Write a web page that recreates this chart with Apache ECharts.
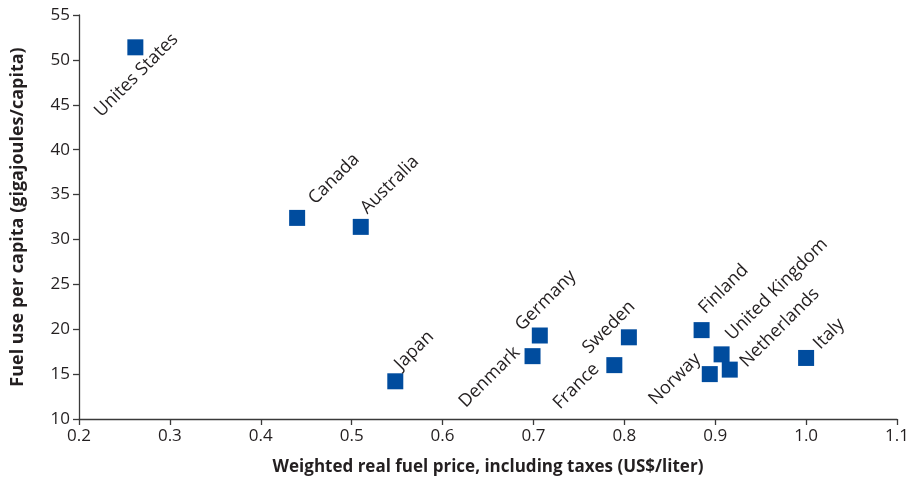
<!DOCTYPE html>
<html>
<head>
<meta charset="utf-8">
<script src="https://cdn.jsdelivr.net/npm/echarts@6/dist/echarts.min.js"></script>
<style>
  html, body { margin: 0; padding: 0; background: #fff; }
  #chart { width: 914px; height: 485px; }
</style>
</head>
<body>
<div id="chart"></div>
<script>
// Fuel price vs. per-capita fuel use by country
const countries = ['Unites States', 'Canada', 'Australia', 'Japan', 'Denmark', 'Germany',
  'France', 'Sweden', 'Finland', 'Norway', 'United Kingdom', 'Netherlands', 'Italy'];
const fuelPrice = [0.262, 0.440, 0.510, 0.548, 0.699, 0.707, 0.789, 0.805, 0.885, 0.894, 0.907, 0.916, 1.000];
const fuelUse   = [51.4, 32.4, 31.4, 14.2, 17.0, 19.3, 16.0, 19.1, 19.9, 15.0, 17.2, 15.5, 16.8];

const xTicks = [0.2, 0.3, 0.4, 0.5, 0.6, 0.7, 0.8, 0.9, 1.0, 1.1];
const yTicks = [10, 15, 20, 25, 30, 35, 40, 45, 50, 55];

// Screen offset (px) of each rotated label's centre from its marker
const labelShift = [
  [1, 28], [37, -39], [29, -42], [19, -31], [-43, 21], [6, -35],
  [-38, 21], [-20, -10], [22, -41], [-35, 5], [55, -65], [50, -42], [23, -24]
];

const FONT = 'Open Sans';
const INK = '#231f20';
const AXIS = '#3a3a3a';
const ANG = Math.PI / 4;

// Labels rotate about their anchor, so express the screen shift in the rotated frame
function toLocal(d) {
  const c = Math.cos(ANG), s = Math.sin(ANG);
  return [c * d[0] - s * d[1], s * d[0] + c * d[1]];
}

const points = countries.map((name, i) => ({
  name: name,
  value: [fuelPrice[i], fuelUse[i]],
  label: { offset: toLocal(labelShift[i]) }
}));

const chart = echarts.init(document.getElementById('chart'), null, { renderer: 'canvas' });
chart.setOption({
  animation: false,
  backgroundColor: '#ffffff',
  grid: { left: 79, right: 17, top: 15, bottom: 66, containLabel: false },
  xAxis: {
    type: 'value',
    min: xTicks[0],
    max: xTicks[xTicks.length - 1],
    interval: 0.1,
    name: 'Weighted real fuel price, including taxes (US$/liter)',
    nameLocation: 'middle',
    nameGap: 40,
    nameTextStyle: { fontFamily: FONT, fontWeight: 'bold', fontSize: 17, color: INK },
    axisLine: { show: true, lineStyle: { color: AXIS, width: 1.3 } },
    axisTick: { show: true, inside: false, length: 6, lineStyle: { color: AXIS, width: 1.3 } },
    axisLabel: {
      margin: 9,
      fontFamily: FONT, fontSize: 17, color: INK,
      formatter: v => v.toFixed(1)
    },
    splitLine: { show: false }
  },
  yAxis: {
    type: 'value',
    min: yTicks[0],
    max: yTicks[yTicks.length - 1],
    interval: 5,
    name: 'Fuel use per capita (gigajoules/capita)',
    nameLocation: 'middle',
    nameGap: 52,
    nameTextStyle: { fontFamily: FONT, fontWeight: 'bold', fontSize: 18, color: INK },
    axisLine: { show: true, lineStyle: { color: AXIS, width: 1.3 } },
    axisTick: { show: true, inside: false, length: 6, lineStyle: { color: AXIS, width: 1.3 } },
    axisLabel: { margin: 9, fontFamily: FONT, fontSize: 17, color: INK },
    splitLine: { show: false }
  },
  series: [{
    type: 'scatter',
    symbol: 'rect',
    symbolSize: 16,
    itemStyle: { color: '#004c9e', opacity: 1 },
    label: {
      show: true,
      position: 'inside',
      rotate: 45,
      align: 'center',
      verticalAlign: 'middle',
      formatter: p => p.name,
      fontFamily: FONT,
      fontSize: 18,
      color: INK,
      textBorderWidth: 0,
      textBorderColor: 'transparent'
    },
    emphasis: { disabled: true },
    data: points
  }]
});
</script>
</body>
</html>
